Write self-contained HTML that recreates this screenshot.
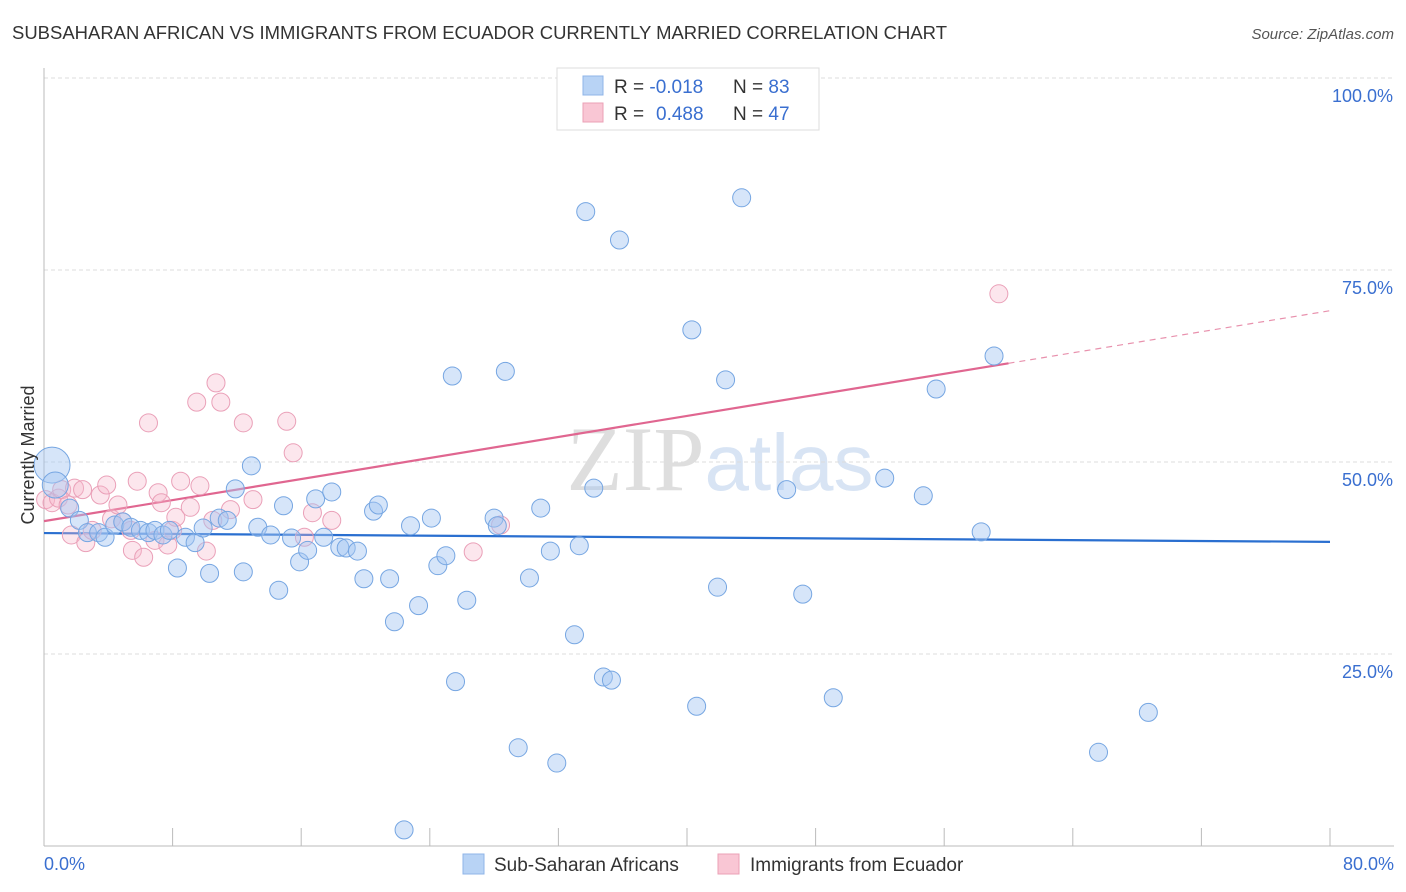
<!DOCTYPE html>
<html><head><meta charset="utf-8"><style>
body{margin:0;background:#fff;font-family:"Liberation Sans",sans-serif;}
svg{display:block}
</style></head><body>
<svg id="chart" width="1406" height="892" xmlns="http://www.w3.org/2000/svg" font-family="Liberation Sans, sans-serif">
<text x="12" y="39" font-size="18" fill="#333" textLength="935" lengthAdjust="spacingAndGlyphs">SUBSAHARAN AFRICAN VS IMMIGRANTS FROM ECUADOR CURRENTLY MARRIED CORRELATION CHART</text>
<text x="1394" y="39" font-size="15" fill="#555" font-style="italic" text-anchor="end">Source: ZipAtlas.com</text>
<text x="720" y="490" font-size="92" text-anchor="middle" fill="#e8e8ec"><tspan font-family="Liberation Serif, serif" fill="#dedede">ZIP</tspan><tspan fill="#d8e4f4" font-size="80">atlas</tspan></text>
<g id="grid"></g>
<g id="axes"></g>
<g id="lines"></g>
<g id="pts"></g>
<text transform="translate(34,455) rotate(-90)" font-size="18" fill="#333" text-anchor="middle">Currently Married</text>
<g>
<rect x="557" y="68" width="262" height="62" fill="#fff" stroke="#ddd"/>
<rect x="583" y="76" width="20" height="19" fill="#b8d3f5" stroke="#8fb5e8"/>
<rect x="583" y="103" width="20" height="19" fill="#f9c6d4" stroke="#eba0b6"/>
<text x="614" y="93" font-size="19" fill="#333">R = <tspan fill="#3a6fd0">-0.018</tspan><tspan x="733">N = </tspan><tspan fill="#3a6fd0">83</tspan></text>
<text x="614" y="120" font-size="19" fill="#333">R = <tspan x="656" fill="#3a6fd0">0.488</tspan><tspan x="733">N = </tspan><tspan fill="#3a6fd0">47</tspan></text>
</g>
<g>
<rect x="463" y="854" width="21" height="20" fill="#b8d3f5" stroke="#8fb5e8"/>
<text x="494" y="871" font-size="19" fill="#333">Sub-Saharan Africans</text>
<rect x="718" y="854" width="21" height="20" fill="#f9c6d4" stroke="#eba0b6"/>
<text x="750" y="871" font-size="19" fill="#333">Immigrants from Ecuador</text>
</g>
</svg>
<script>
const blueX=[0.5,0.7,1.6,2.2,2.7,3.4,3.8,4.4,4.9,5.4,6.0,6.5,6.9,7.4,7.8,8.3,8.8,9.4,9.9,10.3,10.9,11.4,11.9,12.4,12.9,13.3,14.1,14.6,14.9,15.4,15.9,16.4,16.9,17.4,17.9,18.4,18.8,19.5,19.9,20.5,20.8,21.5,21.8,22.4,22.8,23.3,24.1,24.5,25.0,25.4,25.6,26.3,28.0,28.2,28.7,29.5,30.2,30.9,31.5,31.9,33.0,33.3,33.7,34.2,34.8,35.3,35.8,40.3,40.6,41.9,42.4,43.4,46.2,47.2,49.1,52.3,54.7,55.5,58.3,59.1,65.6,68.7];
const blueY=[49.6,47.0,44.0,42.4,40.8,40.8,40.2,41.8,42.2,41.5,41.1,40.8,41.1,40.5,41.1,36.2,40.2,39.5,41.4,35.5,42.7,42.4,46.5,35.7,49.5,41.5,40.5,33.3,44.3,40.1,37.0,38.5,45.2,40.2,46.1,38.9,38.8,38.4,34.8,43.6,44.4,34.8,29.2,2.1,41.7,31.3,42.7,36.5,37.8,61.2,21.4,32.0,42.7,41.7,61.8,12.8,34.9,44.0,38.4,10.8,27.5,39.1,82.6,46.6,22.0,21.6,78.9,67.2,18.2,33.7,60.7,84.4,46.4,32.8,19.3,47.9,45.6,59.5,40.9,63.8,12.2,17.4];
const pinkX=[0.1,0.5,0.9,1.1,1.5,1.7,1.9,2.4,2.6,3.0,3.5,3.9,4.2,4.6,4.9,5.4,5.5,5.8,6.2,6.5,6.9,7.1,7.3,7.7,8.0,8.2,8.5,9.1,9.5,9.7,10.1,10.5,10.7,11.0,11.6,12.4,13.0,15.1,15.5,16.2,16.7,17.9,26.7,28.4,59.4];
const pinkY=[45.1,44.7,45.3,46.4,44.4,40.5,46.6,46.4,39.5,41.1,45.7,47.0,42.6,44.4,42.2,41.1,38.5,47.5,37.6,55.1,39.8,46.0,44.7,39.2,41.1,42.8,47.5,44.1,57.8,46.9,38.4,42.4,60.3,57.8,43.8,55.1,45.1,55.3,51.2,40.2,43.4,42.4,38.3,41.8,71.9];
const blueTrend=[40.75,39.6];
const pinkTrend=[42.3,69.7];
const pinkSolidEnd=60.0;
const yTicks=[25,50,75,100];
const xTickVals=[0,8,16,24,32,40,48,56,64,72,80];

const NS="http://www.w3.org/2000/svg";
const X=v=>44+v/80*1286, Y=v=>846-v*7.68;
function mk(tag,attrs,parent){const e=document.createElementNS(NS,tag);for(const k in attrs)e.setAttribute(k,attrs[k]);document.getElementById(parent).appendChild(e);return e;}
yTicks.forEach(t=>{
 const l=mk('line',{x1:44,x2:1394,y1:Y(t),y2:Y(t),stroke:'#ddd','stroke-dasharray':'4,3'},'grid');
 
 
 const tx=mk('text',{x:1393,y:Y(t)+24,'font-size':18,fill:'#3a6fd0','text-anchor':'end'},'grid');
 tx.textContent=t.toFixed(1)+'%';
 
 
});
const ax=mk('line',{x1:44,x2:44,y1:68,y2:846,stroke:'#bbb'},'axes');


const bx=mk('line',{x1:44,x2:1394,y1:846,y2:846,stroke:'#bbb'},'axes');


xTickVals.forEach(v=>{
 const t=mk('line',{x1:X(v),x2:X(v),y1:828,y2:846,stroke:'#bbb'},'axes');
 
 
});
[[0,'0.0%','start',44],[80,'80.0%','end',1394]].forEach(a=>{
 const t=mk('text',{x:a[3],y:870,'font-size':18,fill:'#3a6fd0','text-anchor':a[2]},'axes');
 t.textContent=a[1];
 
 
});
function pt(x,y,r,fill,stroke){
 const c=mk('circle',{cx:X(x),cy:Y(y),r:r,fill:fill,stroke:stroke,'stroke-width':1},'pts');
 
 
}
pinkX.forEach((x,i)=>pt(x,pinkY[i],9,'rgba(246,182,202,0.35)','#eaa0b8'));
blueX.forEach((x,i)=>pt(x,blueY[i],i===0?18:(i===1?13:9),'rgba(165,198,242,0.45)','#76a6e2'));
const bl=mk('line',{x1:X(0),y1:Y(blueTrend[0]),x2:X(80),y2:Y(blueTrend[1]),stroke:'#2a6fd0','stroke-width':2.2},'lines');


const py=v=>pinkTrend[0]+(pinkTrend[1]-pinkTrend[0])*v/80;
const pl=mk('line',{x1:X(0),y1:Y(py(0)),x2:X(pinkSolidEnd),y2:Y(py(pinkSolidEnd)),stroke:'#e06690','stroke-width':2.2},'lines');


const pd=mk('line',{x1:X(pinkSolidEnd),y1:Y(py(pinkSolidEnd)),x2:X(80),y2:Y(py(80)),stroke:'#e891ad','stroke-width':1.2,'stroke-dasharray':'6,5'},'lines');


</script>
</body></html>
